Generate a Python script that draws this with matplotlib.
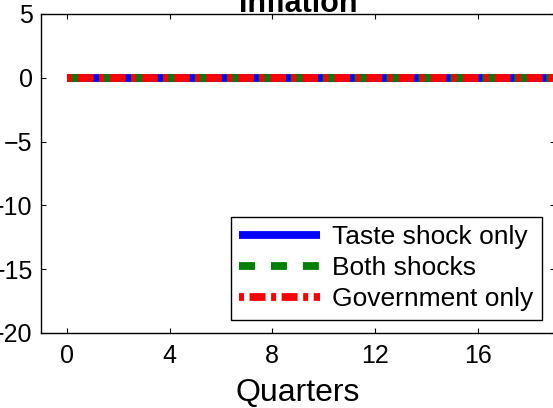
import matplotlib
matplotlib.use("Agg")
import matplotlib.pyplot as plt

plt.rcParams['font.family'] = ['Liberation Sans', 'DejaVu Sans']
plt.rcParams['lines.scale_dashes'] = False

# Impulse responses of inflation (percent), quarters 0..19
quarters = list(range(20))
taste_only = [0.0] * 20
both_shocks = [0.0] * 20
government_only = [0.0] * 20

series_labels = ["Taste shock only", "Both shocks", "Government only"]
x_ticks = [0, 4, 8, 12, 16]
y_ticks = [5, 0, -5, -10, -15, -20]

W, H = 553, 408
fig = plt.figure(figsize=(W / 100, H / 100), dpi=100)
left, right, bottom, top = 41, 555, 333, 14
ax = fig.add_axes([left / W, 1 - bottom / H, (right - left) / W, (bottom - top) / H])

lw = 5.6
ax.plot(quarters, taste_only, color=(0, 0, 1), lw=lw, solid_capstyle='butt',
        label=series_labels[0])
ax.plot(quarters, both_shocks, color=(0, 0.5, 0), lw=lw, dash_capstyle='butt',
        linestyle=(0, (11.5, 11.5)), label=series_labels[1])
ax.plot(quarters, government_only, color=(1, 0, 0), lw=lw, dash_capstyle='butt',
        linestyle=(0, (3.6, 4.0, 11.5, 4.0)), label=series_labels[2])

ax.set_xlim(-1, 19)
ax.set_ylim(-20, 5)
ax.set_xticks(x_ticks)
ax.set_yticks(y_ticks)

for s in ax.spines.values():
    s.set_linewidth(1.0)
    s.set_color('black')

ax.tick_params(direction='in', length=3.6, width=0.8, top=True, right=True,
               labelsize=18, colors='black')
ax.tick_params(axis='x', pad=8)
ax.tick_params(axis='y', pad=6)

ax.set_xlabel("Quarters", fontsize=23, labelpad=7)
ax.text(0.5, 1 + 2 / (bottom - top), "Inflation", transform=ax.transAxes,
        ha='center', va='baseline', fontsize=22, fontweight='bold')

leg = ax.legend(loc='lower right', fontsize=19, handlelength=3.05,
                handletextpad=0.45, labelspacing=0.26, borderpad=0.33,
                borderaxespad=0.5, fancybox=False, framealpha=1,
                edgecolor='black')
leg.get_frame().set_linewidth(1.0)

fig.savefig("out.png", dpi=100)
